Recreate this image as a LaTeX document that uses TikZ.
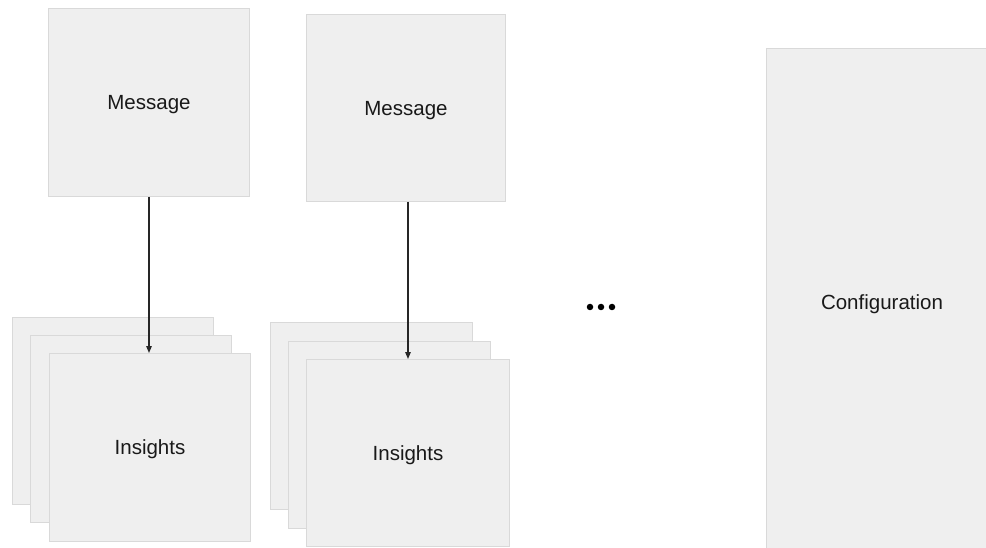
\documentclass[tikz,border=0pt]{standalone}
\usepackage{fontspec}
\setmainfont{Liberation Sans}
\usetikzlibrary{arrows.meta}
\definecolor{boxfill}{HTML}{EFEFEF}
\definecolor{boxline}{HTML}{D9D9D9}
\tikzset{
  box/.style={draw=boxline, fill=boxfill, line width=1pt, anchor=north west,
    inner sep=0pt, font=\fontsize{20.5}{24}\selectfont, text=black!90, text depth=0pt},
  link/.style={draw=black!85, line width=1.2pt, -{Triangle[length=7pt,width=5.5pt]}},
  dotmark/.style={circle, fill=black, inner sep=0pt, minimum size=6.5pt}
}
\begin{document}
\begin{tikzpicture}[x=1pt,y=-1pt]
\useasboundingbox (0,0) rectangle (986,548);
\clip (0,0) rectangle (986,548);
% stack 1
\node[box, minimum width=201, minimum height=187] (i1c) at (12,317) {};
\node[box, minimum width=201, minimum height=187] (i1b) at (30,335) {};
\node[box, minimum width=201, minimum height=188] (i1) at (49,353) {Insights};
\node[box, minimum width=201, minimum height=188] (m1) at (48,8) {Message};
% stack 2
\node[box, minimum width=202, minimum height=187] (i2c) at (270,322) {};
\node[box, minimum width=202, minimum height=187] (i2b) at (288,341) {};
\node[box, minimum width=203, minimum height=187] (i2) at (306,359) {Insights};
\node[box, minimum width=199, minimum height=187] (m2) at (306,14) {Message};
% configuration
\node[box, minimum width=232, minimum height=520] (cfg) at (766,48) {};
\node[font=\fontsize{20.5}{24}\selectfont, text=black!90, text depth=0pt] (cfgt) at (882,302) {Configuration};
% dots
\node[dotmark] (d1) at (590,307) {};
\node[dotmark] (d2) at (601,307) {};
\node[dotmark] (d3) at (612,307) {};
% arrows
\draw[link] (m1.south) -- (m1.south |- i1.north);
\draw[link] (m2.south -| i2.north) -- (i2.north);
\end{tikzpicture}
\end{document}
